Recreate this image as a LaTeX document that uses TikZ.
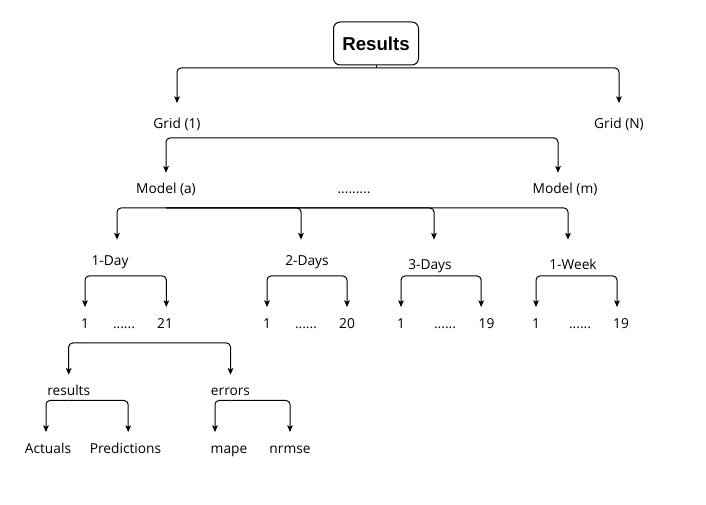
\documentclass[tikz,border=0pt]{standalone}
\usepackage{fontspec}
\setmainfont{Open Sans}
\newfontfamily\headfont{Liberation Sans}
\usetikzlibrary{arrows.meta}

\begin{document}
\begin{tikzpicture}[x=0.75pt, y=-0.75pt, >={Stealth[length=5pt,width=4.2pt,inset=1pt]},
  lbl/.style={font=\fontsize{10.3}{12}\selectfont, inner sep=0pt, text height=7.5pt, text depth=2pt},
  link/.style={->, line width=0.75pt, rounded corners=3pt, shorten >=8.5pt},
  stub/.style={-, line width=0.75pt},
  headbox/.style={draw, line width=0.75pt, rounded corners=5pt, inner sep=0pt,
    minimum width=63.75pt, minimum height=32.25pt,
    font=\headfont\bfseries\fontsize{14}{16}\selectfont}]
\useasboundingbox (0,0) rectangle (706,505);

  \node [headbox] (res) at (376,43.5) {Results};

  \node [lbl] (grid1) at (177,125) {Grid (1)};
  \node [lbl] (gridN) at (619,125) {Grid (N)};

  \node [lbl] (mdla) at (166,190) {Model (a)};
  \node [lbl] (mdots) at (354,190) {.........};
  \node [lbl] (mdlm) at (565,190) {Model (m)};

  \node [lbl] (day1) at (110,262) {1-Day};
  \node [lbl] (days2) at (307,262) {2-Days};
  \node [lbl] (days3) at (430,266) {3-Days};
  \node [lbl] (week1) at (573,266) {1-Week};

  \node [lbl] (n1a) at (85,325) {1};
  \node [lbl] (d1) at (124,325) {......};
  \node [lbl] (n1b) at (165,325) {21};
  \node [lbl] (n2a) at (267,325) {1};
  \node [lbl] (d2) at (306,325) {......};
  \node [lbl] (n2b) at (347,325) {20};
  \node [lbl] (n3a) at (401,325) {1};
  \node [lbl] (d3) at (445,325) {......};
  \node [lbl] (n3b) at (486.5,325) {19};
  \node [lbl] (n4a) at (536,325) {1};
  \node [lbl] (d4) at (580,325) {......};
  \node [lbl] (n4b) at (621,325) {19};

  \node [lbl] (rslt) at (68.7,392) {results};
  \node [lbl] (errs) at (230.5,392) {errors};

  \node [lbl] (act) at (48,450) {Actuals};
  \node [lbl] (pred) at (125.5,450) {Predictions};
  \node [lbl] (mape) at (229,450) {mape};
  \node [lbl] (nrmse) at (290,450) {nrmse};

  \coordinate (j0) at (376,68);
  \draw  [stub] (res.south) -- (j0);
  \draw  [link, shorten >=11.5pt] (j0) -| (grid1.north);
  \draw  [link, shorten >=11.5pt] (j0) -| (gridN.north);

  \coordinate (j1) at (177,138);
  \draw  [link, shorten >=8pt] (j1) -| (mdla.north);
  \draw  [link, shorten >=8pt] (j1) -| ([xshift=-5.25pt]mdlm.north);

  \coordinate (j2) at (166,208);
  \draw  [link, shorten >=11.8pt] (j2) -| ([xshift=5.25pt]day1.north);
  \draw  [link, shorten >=11.8pt] (j2) -| ([xshift=-4.5pt]days2.north);
  \draw  [link, shorten >=14.8pt] (j2) -| ([xshift=3pt]days3.north);
  \draw  [link, shorten >=14.8pt] (j2) -| ([xshift=-3.75pt]week1.north);

  \coordinate (j3a) at (110,276);
  \draw  [link] (j3a) -| (n1a.north);
  \draw  [link] (j3a) -| ([xshift=1pt]n1b.north);
  \coordinate (j3b) at (307,276);
  \draw  [link] (j3b) -| (n2a.north);
  \draw  [link] (j3b) -| (n2b.north);
  \coordinate (j3c) at (437,276);
  \draw  [link] (j3c) -| (n3a.north);
  \draw  [link] (j3c) -| ([xshift=-4pt]n3b.north);
  \coordinate (j3d) at (572,276);
  \draw  [link] (j3d) -| (n4a.north);
  \draw  [link] (j3d) -| ([xshift=-3pt]n4b.north);

  \coordinate (j4) at (85,343);
  \draw  [link, shorten >=8pt] (j4) -| (rslt.north);
  \draw  [link, shorten >=8pt] (j4) -| (errs.north);

  \coordinate (j5a) at (68.7,400.5);
  \draw  [link] (j5a) -| ([xshift=-1.5pt]act.north);
  \draw  [link] (j5a) -| ([xshift=2pt]pred.north);
  \coordinate (j5b) at (230.5,400.5);
  \draw  [link] (j5b) -| ([xshift=-10.5pt]mape.north);
  \draw  [link] (j5b) -| (nrmse.north);
\end{tikzpicture}
\end{document}
